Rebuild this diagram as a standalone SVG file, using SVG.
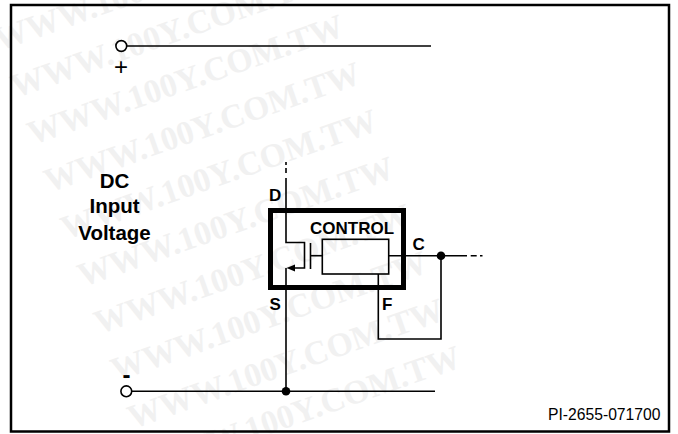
<svg xmlns="http://www.w3.org/2000/svg" width="678" height="434" viewBox="0 0 678 434">
<style>
text{font-family:"Liberation Sans",Arial,sans-serif;fill:#000}
.l{font-size:17px;font-weight:bold}
.b{font-size:20.500px;font-weight:bold;text-anchor:middle}
text.w{font-family:"Liberation Serif",serif;font-size:33.600px;font-weight:bold;fill:#f1f1f1}
.c{fill:none;stroke:#000;stroke-width:1.600}
</style>
<rect width="678" height="434" fill="#fff"/>
<g id="watermark">
<text class="w" transform="translate(-1,51) rotate(-19.300)">WWW.100Y.COM.TW</text>
<text class="w" transform="translate(15.600,98) rotate(-19.300)">WWW.100Y.COM.TW</text>
<text class="w" transform="translate(32.300,145) rotate(-19.300)">WWW.100Y.COM.TW</text>
<text class="w" transform="translate(49,192.400) rotate(-19.300)">WWW.100Y.COM.TW</text>
<text class="w" transform="translate(65.700,239.700) rotate(-19.300)">WWW.100Y.COM.TW</text>
<text class="w" transform="translate(82.400,287) rotate(-19.300)">WWW.100Y.COM.TW</text>
<text class="w" transform="translate(99.100,334.300) rotate(-19.300)">WWW.100Y.COM.TW</text>
<text class="w" transform="translate(115.800,381.600) rotate(-19.300)">WWW.100Y.COM.TW</text>
<text class="w" transform="translate(132.500,428.900) rotate(-19.300)">WWW.100Y.COM.TW</text>
<text class="w" transform="translate(149.200,476.200) rotate(-19.300)">WWW.100Y.COM.TW</text>
</g>
<g id="frame"><rect x="11" y="5" width="658" height="426.500" fill="none" stroke="#000" stroke-width="2.500"/></g>
<g id="connectors">
<path class="c" d="M126.500 46H431"/>
<path class="c" d="M131.500 391.300H435"/>
<path class="c" d="M286 178V242.500H304.500V268H294"/>
<path class="c" d="M286 162V165M286 168V173"/>
<path class="c" d="M286 268V391"/>
<path d="M286.500 268L295 264.500V271.500Z"/>
<path class="c" d="M310.500 243V269"/>
<path class="c" d="M310.500 255.700H322.300"/>
<path class="c" d="M388.700 255.700H467"/>
<path class="c" d="M470.700 255.700H476.700M480 255.700H482.500"/>
<path class="c" d="M378.300 274V339H441V255.700"/>
</g>
<g id="control"><rect x="322.300" y="239.300" width="66.400" height="34.700" class="c"/><text class="l" x="310" y="234">CONTROL</text></g>
<g id="package"><rect x="270.500" y="210.500" width="133" height="77" fill="none" stroke="#000" stroke-width="5"/></g>
<g id="plus"><circle cx="121.300" cy="46" r="5.400" fill="#fff" stroke="#000" stroke-width="1.600"/><text x="121" y="75" font-size="24" text-anchor="middle">+</text></g>
<g id="minus"><circle cx="126.300" cy="391.300" r="5.400" fill="#fff" stroke="#000" stroke-width="1.600"/><text x="126.500" y="382.500" font-size="24" font-weight="bold" text-anchor="middle">-</text></g>
<g id="dots"><circle cx="286" cy="391.300" r="4.300"/><circle cx="441" cy="255.700" r="4.300"/></g>
<g id="pins">
<text class="l" x="269" y="200.500">D</text>
<text class="l" x="269.500" y="310">S</text>
<text class="l" x="412.500" y="250">C</text>
<text class="l" x="382" y="310">F</text>
</g>
<g id="input"><text class="b" x="114.500" y="188">DC</text><text class="b" x="114.500" y="213">Input</text><text class="b" x="114.500" y="240">Voltage</text></g>
<g id="ref"><text x="660.500" y="420" font-size="15.700" text-anchor="end">PI-2655-071700</text></g>
</svg>
